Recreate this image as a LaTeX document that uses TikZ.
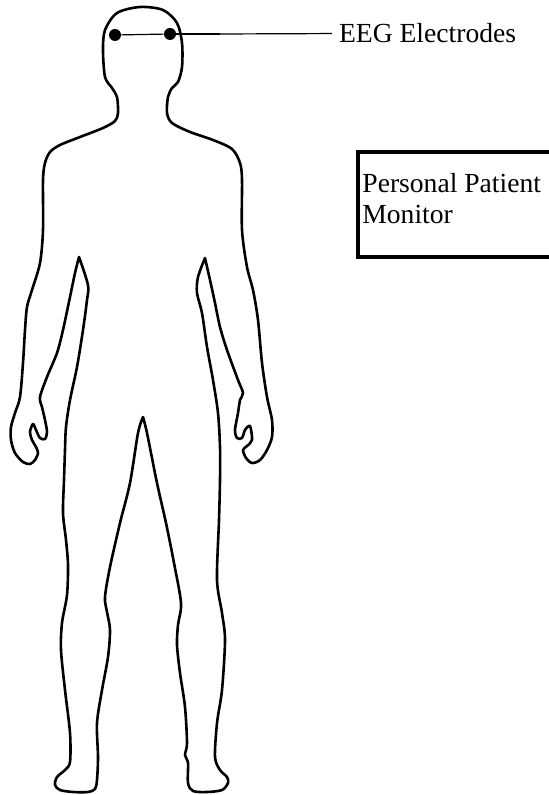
\documentclass[tikz,border=0pt]{standalone}
\usepackage{fontspec}
\setmainfont{Liberation Serif}

\begin{document}
\begin{tikzpicture}[
    x=0.5pt, y=-0.5pt, % work in pixel units, y pointing down
    every node/.style={font=\fontsize{13.8}{15.5}\selectfont},
    outline/.style={line width=1.3pt, line join=round},
    electrode/.style={circle, fill, inner sep=0pt, minimum size=6pt},
    boxline/.style={line width=2pt}
  ]

% Frame of the page; the monitor box runs off the right edge
\useasboundingbox (0,0) rectangle (549,795);
\clip (0,0) rectangle (549,795);

% Body outline in three smooth runs, so the two armpits and the crotch stay pointed
% run 1: crotch -> left leg and foot -> left side of torso -> left armpit
\draw[outline]
  plot[smooth, tension=0.5] coordinates {
    (143,417) (138,433) (130,483) (120,523) (110,567) (105,597) (107,612)
    (110,630) (108,657) (102,690) (97,723) (98,757) (97,780) (95,789)
    (88,792) (73,792) (60,790) (55,785) (57,777) (65,770) (70,762)
    (70,733) (65,690) (61,650) (62,623) (67,595) (68,565) (66,540)
    (63,513) (64,480) (65,450) (66,427) (70,400) (77,367) (83,330)
    (87,300) (88,285) (79,257)}
% run 2: left armpit -> left arm and hand -> shoulders and head -> right arm and hand -> right armpit
  -- plot[smooth, tension=0.5] coordinates {
    (79,257) (75,273) (70,297) (63,330) (57,353) (47,377) (40,397)
    (42,407) (45,420) (47,432) (45,439) (40,438) (36,430) (33,424)
    (30,432) (32,440) (36,447) (38,453) (35,460) (30,464) (23,462)
    (15,453) (11,440) (11,427) (15,413) (20,397) (23,363) (25,330)
    (27,307) (32,290) (40,263) (43,230) (43,180) (45,163) (50,152)
    (60,145) (80,137) (103,128) (115,121) (118,113) (117,97) (112,88)
    (105,77) (103,50) (105,30) (117,13) (140,7) (163,10) (177,23)
    (182,43) (182,67) (178,82) (172,88) (168,97) (167,113) (172,123)
    (190,132) (213,140) (232,149) (240,163) (242,180) (242,230) (247,267)
    (253,290) (258,320) (262,363) (267,397) (272,420) (272,437) (267,450)
    (260,460) (252,463) (246,458) (243,450) (247,446) (252,440) (250,426)
    (245,430) (242,438) (237,438) (235,430) (238,413) (240,400) (243,393)
    (238,380) (227,350) (220,327) (215,303) (210,280) (205,258)}
% run 3: right armpit -> right side of torso -> right leg and foot -> crotch
  -- plot[smooth, tension=0.5] coordinates {
    (205,258) (198,277) (197,293) (202,313) (207,347) (213,380) (218,413)
    (220,447) (220,480) (219,520) (217,580) (222,613) (225,640) (222,690)
    (217,723) (215,757) (220,770) (227,777) (228,783) (222,790) (207,792)
    (193,791) (188,783) (188,763) (185,755) (187,743) (185,707) (180,673)
    (177,645) (178,625) (181,603) (174,563) (166,523) (157,483) (147,433)
    (143,417)}
  -- cycle;

% Electrodes on the scalp and their label
\node[electrode] (elecL) at (115,35) {};
\node[electrode] (elecR) at (170,34) {};
\coordinate (lead) at (220,34);
\node[anchor=base west] (eeg) at (332,43) {EEG Electrodes};

\draw[line width=0.6pt] (elecL) -- (elecR);
\draw[line width=1.4pt] (elecR) -- (lead);
\draw[line width=0.6pt] (lead) -- (eeg.west);

% Monitor box (its right side lies past the page edge)
\draw[boxline] (358,152) rectangle (575,257);
\node[anchor=north west, inner sep=0pt, align=left] (monitor) at (362,173)
  {Personal Patient\\Monitor};

\end{tikzpicture}
\end{document}
